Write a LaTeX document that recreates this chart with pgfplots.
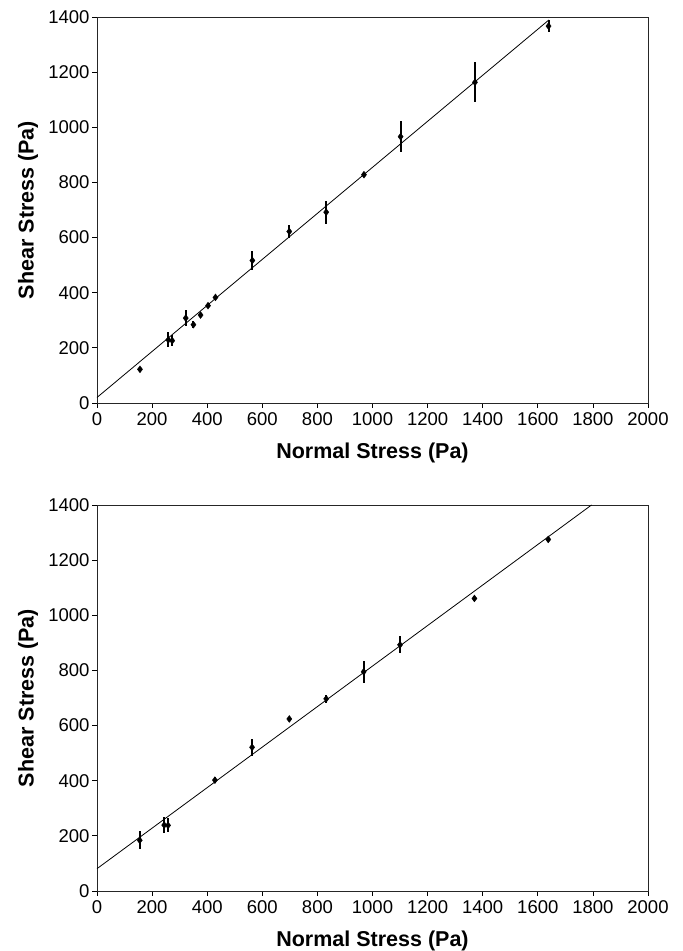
\documentclass[border=0pt]{standalone}
\usepackage{fontspec}
\setmainfont{Liberation Sans}
\usepackage{pgfplots}
\pgfplotsset{compat=1.18}
\usepackage{pgfplotstable}

\pgfplotstableread{
x y e
156 122 5
259 229 27
273 226 20
322 308 28
350 284 12
376 319 6
403 353 10
430 383 6
564 517 36
698 622 22
832 692 42
969 828 5
1102 966 56
1372 1163 73
1639 1367 22
}\topdata

\pgfplotstableread{
x y e
155 184 33
244 239 28
258 238 25
428 402 12
563 521 30
698 624 6
832 697 15
968 795 40
1100 893 31
1370 1061 10
1638 1275 8
}\botdata

\pgfplotsset{
  shearstyle/.style={
    scale only axis,
    width=551pt, height=386pt,
    xmin=0, xmax=2000, ymin=0, ymax=1400,
    xtick={0,200,...,2000}, ytick={0,200,...,1400},
    tick align=outside, major tick length=5pt,
    tick style={black, line width=0.8pt},
    xtick pos=bottom, ytick pos=left,
    axis line style={black!85, line width=0.9pt},
    /pgf/number format/assume math mode=true,
    /pgf/number format/1000 sep={},
    tick label style={font=\fontsize{18.5}{18.5}\selectfont},
    xticklabel style={yshift=-1pt},
    yticklabel style={xshift=1pt},
    label style={font=\fontsize{21.5}{22}\selectfont\bfseries},
    xlabel={Normal Stress (Pa)},
    ylabel={Shear Stress (Pa)},
    xlabel style={at={(axis description cs:0.5,-0.1425)}, anchor=base},
    ylabel style={at={(axis description cs:-0.1252,0.5)}, anchor=center},
    clip=false,
  },
  datastyle/.style={
    only marks, black,
    mark=diamond*, mark size=3.5pt,
    mark options={fill=black, line width=0.3pt},
    error bars/.cd, y dir=both, y explicit,
    error mark=none,
    error bar style={line width=2pt, black},
  },
}

\begin{document}
\begin{tikzpicture}
\useasboundingbox (0,0) rectangle (683pt,951pt);
\begin{axis}[shearstyle, at={(97pt,548pt)}, anchor=south west]
\addplot[black, line width=0.8pt, no marks] coordinates {(0,20) (1640,1389)};
\addplot[datastyle] table[x=x, y=y, y error=e] {\topdata};
\end{axis}
\begin{axis}[shearstyle, at={(97pt,60pt)}, anchor=south west]
\addplot[black, line width=0.8pt, no marks] coordinates {(0,81) (1795,1400)};
\addplot[datastyle] table[x=x, y=y, y error=e] {\botdata};
\end{axis}
\end{tikzpicture}
\end{document}
